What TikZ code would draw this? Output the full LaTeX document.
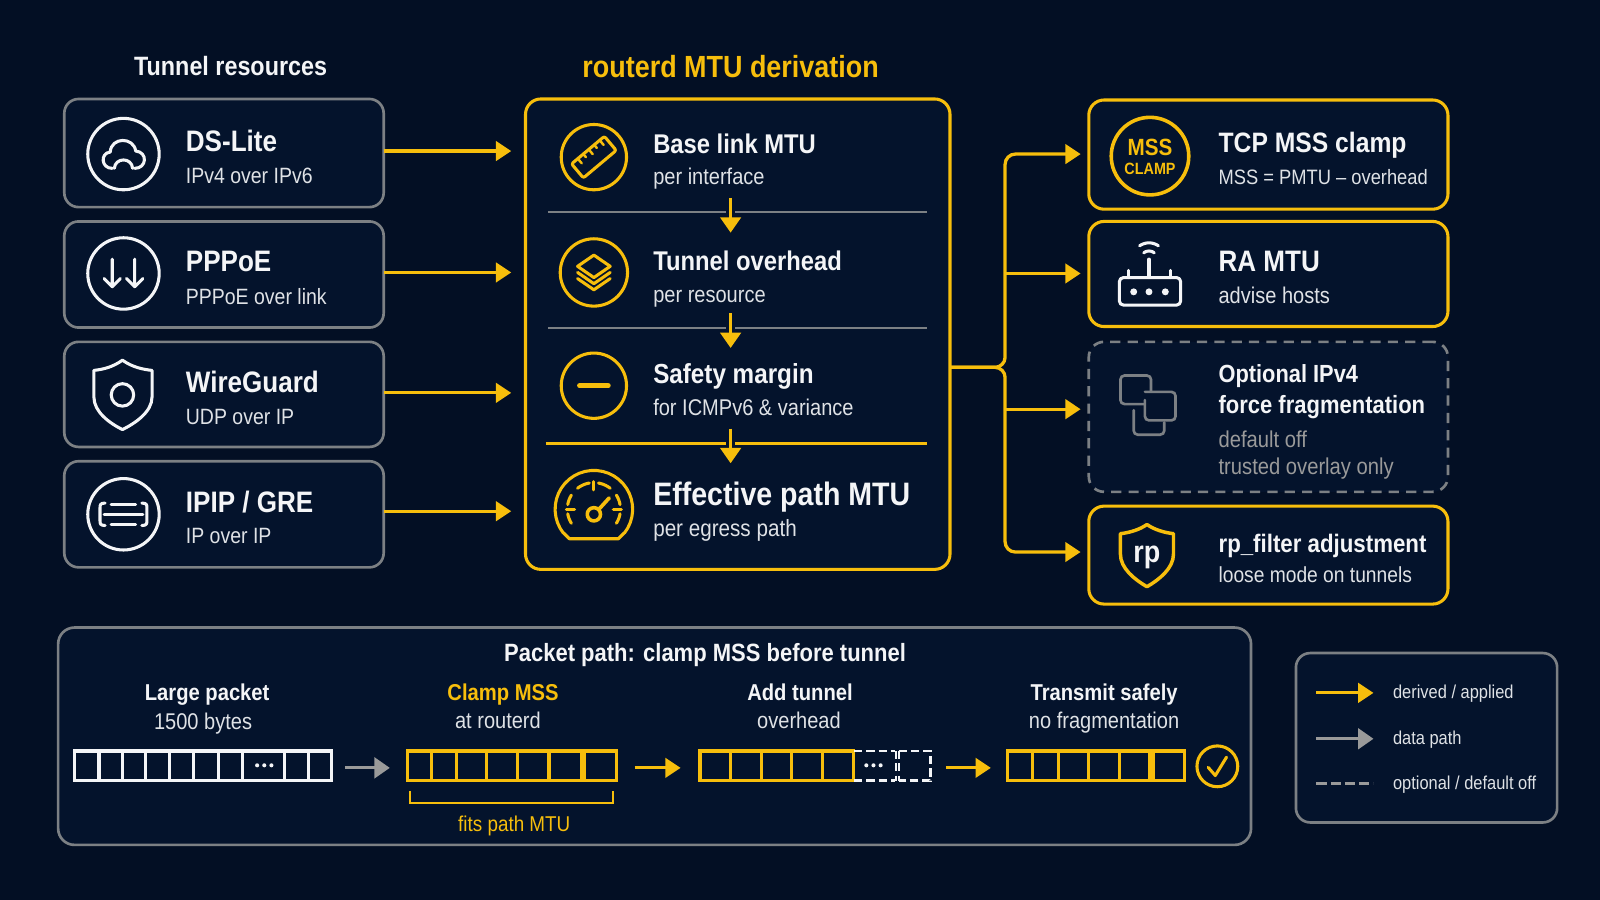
\documentclass[tikz,border=0pt]{standalone}
\usepackage{fontspec}
\setmainfont{Liberation Sans}[FakeStretch=0.88]
\usetikzlibrary{arrows.meta}
\definecolor{bgc}{HTML}{030F24}
\definecolor{boxc}{HTML}{04132C}
\definecolor{yel}{HTML}{F7BE0C}
\definecolor{gry}{HTML}{7C8084}
\definecolor{lgry}{HTML}{9A9A9A}
\definecolor{wht}{HTML}{F4F5F7}
\definecolor{sub}{HTML}{DFE2E6}
\newcommand\mybox[6]{\pgfmathsetmacro\cxx{(#3+#5)/2}\pgfmathsetmacro\cyy{(#4+#6)/2}\pgfmathsetmacro\ww{#5-#3}\pgfmathsetmacro\hh{#6-#4}\node[#2,minimum width=\ww pt,minimum height=\hh pt,inner sep=0pt,outer sep=0pt] (#1) at (\cxx,\cyy) {};}
\newcommand\tx[5]{\node[anchor=base west,inner sep=0pt,#2] (#1) at (#3,#4) {#5};}
\newcommand\tc[5]{\node[anchor=base,inner sep=0pt,#2] (#1) at (#3,#4) {#5};}
\newcommand\ar[5]{plot[domain=#4:#5,samples=30] ({#1+#2*0+#3*cos(\x)},{#2-#3*sin(\x)})}
\newcommand\fz[1]{\fontsize{#1}{#1}\selectfont}
\tikzset{
  gbox/.style={draw=gry,fill=boxc,line width=2.6pt,rounded corners=14pt},
  ybox/.style={draw=yel,fill=boxc,line width=3pt,rounded corners=15pt},
  dbox/.style={draw=gry,fill=boxc,line width=2.6pt,rounded corners=15pt,dash pattern=on 10pt off 7pt},
  head/.style={text=wht,font=\fz{29}\bfseries},
  subt/.style={text=sub,font=\fz{21.7}},
  subc/.style={text=sub,font=\fz{22.3}},
  yarrow/.style={draw=yel,line width=3.2pt,-{Triangle[length=15pt,width=19pt]}},
  garrow/.style={draw=lgry,line width=3.2pt,-{Triangle[length=15pt,width=20pt]}},
  wi/.style={draw=wht,line width=3pt,line cap=round,line join=round},
  yi/.style={draw=yel,line width=3pt,line cap=round,line join=round},
  cell/.style={line width=3pt},
}
\begin{document}
\begin{tikzpicture}[x=1pt,y=-1pt]
\useasboundingbox (0,0) rectangle (1568,882);
\fill[bgc] (0,0) rectangle (1568,882);

% titles
\tc{t1}{text=wht,font=\fz{26}\bfseries}{226}{74}{Tunnel resources}
\tc{t2}{text=yel,font=\fz{30}\bfseries}{716}{76}{routerd MTU derivation}

% left boxes
\mybox{dsl}{gbox}{63}{97}{376}{203}
\mybox{ppp}{gbox}{63}{217}{376}{321}
\mybox{wg}{gbox}{63}{335}{376}{438}
\mybox{gre}{gbox}{63}{452}{376}{556}
\mybox{der}{ybox}{515}{97}{931}{558}

\tx{dslh}{head}{182}{148}{DS-Lite}
\tx{dsls}{subt}{182}{180}{IPv4 over IPv6}
\tx{ppph}{head}{182}{266}{PPPoE}
\tx{ppps}{subt}{182}{298}{PPPoE over link}
\tx{wgh}{head}{182}{385}{WireGuard}
\tx{wgs}{subt}{182}{416}{UDP over IP}
\tx{greh}{head}{182}{502}{IPIP / GRE}
\tx{gres}{subt}{182}{533}{IP over IP}

% left icons
\draw[wi] (121,151) circle (35);
\draw[wi] (110,165) .. controls (99,165) and (98,150) .. (108,149) .. controls (109,134) and (131,134) .. (133,148) .. controls (145,149) and (144,165) .. (132,165);
\draw[wi] (112,165) .. controls (113,154) and (129,154) .. (130,165);
\draw[wi] (121,268) circle (35);
\draw[wi] (110,254)--(110,281) (102,273)--(110,281)--(118,273);
\draw[wi] (132,254)--(132,281) (124,273)--(132,281)--(140,273);
\draw[wi] (120,353) .. controls (130,360) and (140,362) .. (149,363) -- (149,389) .. controls (149,404) and (132,415) .. (120,421) .. controls (108,415) and (92,404) .. (92,389) -- (92,363) .. controls (101,362) and (110,360) .. (120,353) -- cycle;
\draw[wi] (120,387) circle (11);
\draw[wi] (121,504) circle (35);
\draw[wi] (109,494)--(133,494) (102,504)--(140,504) (109,514)--(133,514);
\draw[wi] (103,493) .. controls (98,493) and (98,495) .. (98,498) -- (98,510) .. controls (98,513) and (98,515) .. (103,515);
\draw[wi] (139,493) .. controls (144,493) and (144,495) .. (144,498) -- (144,510) .. controls (144,513) and (144,515) .. (139,515);

% left arrows
\foreach \n/\s in {dsl/2,ppp/2,wg/1.5,gre/3}
  \draw[yarrow,shorten >=14pt] ([yshift=\s pt]\n.east) -- ([yshift=\s pt]\n.east -| der.west);

% derivation rows
\tx{d1h}{text=wht,font=\fz{26.5}\bfseries}{640}{150}{Base link MTU}
\tx{d1s}{subc}{640}{181}{per interface}
\tx{d2h}{text=wht,font=\fz{26.5}\bfseries}{640}{265}{Tunnel overhead}
\tx{d2s}{subc}{640}{296}{per resource}
\tx{d3h}{text=wht,font=\fz{27}\bfseries}{640}{376}{Safety margin}
\tx{d3s}{subc}{640}{407}{for ICMPv6 \& variance}
\tx{d4h}{text=wht,font=\fz{31.8}\bfseries}{640}{495}{Effective path MTU}
\tx{d4s}{text=sub,font=\fz{23}}{640}{526}{per egress path}

\draw[draw=gry,line width=2pt] (537,208)--(908,208) (537,321)--(908,321);
\draw[draw=yel,line width=3pt] (535,435)--(908,435);
\coordinate (a1) at (716,194); \coordinate (a2) at (716,228);
\coordinate (b1) at (716,307); \coordinate (b2) at (716,341);
\coordinate (c1) at (716,420); \coordinate (c2) at (716,454);
\foreach \p/\q in {a1/a2,b1/b2,c1/c2}{
  \draw[boxc,line width=9pt,shorten >=18pt] (\p)--(\q);
  \draw[draw=yel,line width=3.2pt,-{Triangle[length=15pt,width=20pt]}] (\p)--(\q);
}

% derivation icons
\draw[yi] (582,154) circle (32);
\begin{scope}[shift={(582,154)},rotate=40]
  \draw[yi,rounded corners=2pt] (-21,-9) rectangle (21,9);
  \draw[yi,line width=2.4pt] (-13,-9)--(-13,-3) (-6,-9)--(-6,-5) (1,-9)--(1,-3) (8,-9)--(8,-5) (15,-9)--(15,-3);
\end{scope}
\draw[yi] (582,267) circle (33);
\draw[yi] (582,250)--(598,261)--(582,272)--(566,261)--cycle;
\draw[yi] (566,267)--(582,278)--(598,267);
\draw[yi] (566,273)--(582,284)--(598,273);
\draw[yi] (582,378) circle (32);
\draw[yi,line width=5pt] (568,378)--(596,378);
\draw[yi] (552,522) \ar{582}{499}{38}{218}{-38} (612,522) -- (606,528) -- (558,528) -- (552,522);
\draw[yi] \ar{582}{499}{26}{100}{128};
\draw[yi] \ar{582}{499}{26}{52}{80};
\draw[yi] \ar{582}{499}{26}{148}{170};
\draw[yi] \ar{582}{499}{26}{10}{32};
\draw[yi] \ar{582}{499}{26}{190}{212};
\draw[yi] \ar{582}{499}{26}{-32}{-10};
\draw[yi] (582,472)--(582,480) (555,499)--(563,499) (601,499)--(609,499);
\draw[yi,line width=3.6pt] (587,499)--(597,488);
\draw[yi,line width=3.5pt] (582,504) circle (6.5);

% right boxes
\mybox{mss}{ybox}{1067}{98}{1419}{205}
\mybox{ra}{ybox}{1067}{217}{1419}{320}
\mybox{frag}{dbox}{1067}{335}{1419}{482}
\mybox{rp}{ybox}{1067}{496}{1419}{592}

\tx{m1}{text=wht,font=\fz{27.5}\bfseries}{1194}{149}{TCP MSS clamp}
\tx{m2}{text=sub,font=\fz{20.4}}{1194}{181}{MSS = PMTU – overhead}
\tx{r1}{text=wht,font=\fz{29}\bfseries}{1194}{266}{RA MTU}
\tx{r2}{subc}{1194}{297}{advise hosts}
\tx{f1}{text=wht,font=\fz{24.3}\bfseries}{1194}{375}{Optional IPv4}
\tx{f2}{text=wht,font=\fz{24.5}\bfseries}{1194}{405}{force fragmentation}
\tx{f3}{text=lgry,font=\fz{22.5}}{1194}{439}{default off}
\tx{f4}{text=lgry,font=\fz{22.5}}{1194}{465}{trusted overlay only}
\tx{p1t}{text=wht,font=\fz{24.8}\bfseries}{1194}{541}{rp\_filter adjustment}
\tx{p2t}{text=sub,font=\fz{21.4}}{1194}{571}{loose mode on tunnels}

% right icons
\draw[yi,line width=3.5pt] (1127,153) circle (38);
\tc{ic1}{text=yel,font=\fz{23}\bfseries}{1127}{152}{MSS}
\tc{ic2}{text=yel,font=\fz{16}\bfseries}{1127}{171}{CLAMP}
\draw[wi,rounded corners=4pt] (1097,272) rectangle (1157,299);
\fill[wht] (1111,286) circle (3.4) (1126,286) circle (3.4) (1142,286) circle (3.4);
\draw[wi] (1126,272)--(1126,254) (1106,272)--(1106,265) (1147,272)--(1147,265);
\draw[wi] \ar{1126}{254}{8}{50}{130};
\draw[wi] \ar{1126}{254}{16}{55}{125};
\draw[gry,line width=2.6pt,rounded corners=4pt,line cap=round] (1121,396)--(1098,396)--(1098,368)--(1128,368)--(1128,384);
\draw[gry,line width=2.6pt,rounded corners=4pt,line cap=round] (1122,384)--(1152,384)--(1152,412)--(1122,412)--(1122,392);
\draw[gry,line width=2.6pt,rounded corners=4pt,line cap=round] (1111,402)--(1111,426)--(1141,426)--(1141,414);
\draw[yi,line width=3.4pt] (1124,514) .. controls (1131,519) and (1141,522) .. (1150,523) -- (1150,543) .. controls (1150,557) and (1136,568) .. (1124,575) .. controls (1112,568) and (1098,557) .. (1098,543) -- (1098,523) .. controls (1107,522) and (1117,519) .. (1124,514) -- cycle;
\tc{ic3}{text=wht,font=\fz{30}\bfseries}{1124}{551}{rp}

% bus
\coordinate (bus) at (985,360);
\draw[yarrow,rounded corners=10pt] (der.east |- bus) -- (bus) -- (985,151) -- (mss.west |- 0,151) [shorten >=8pt];
\draw[yarrow,rounded corners=10pt] (der.east |- bus) -- (bus) -- (985,541) -- (rp.west |- 0,541) [shorten >=8pt];
\draw[yarrow,shorten >=8pt] (985,268) -- (ra.west |- 0,268);
\draw[yarrow,shorten >=8pt] (985,401) -- (frag.west |- 0,401);

% packet path panel
\mybox{pk}{gbox,rounded corners=16pt}{57}{615}{1226}{828}
\tc{pt}{text=wht,font=\fz{24.5}\bfseries}{691}{648}{Packet path: clamp MSS before tunnel}
\tc{l1}{text=wht,font=\fz{22.5}\bfseries}{203}{686}{Large packet}
\tc{l1b}{subc}{199}{715}{1500 bytes}
\tc{l2}{text=yel,font=\fz{22.5}\bfseries}{493}{686}{Clamp MSS}
\tc{l2b}{subc}{488}{714}{at routerd}
\tc{l3}{text=wht,font=\fz{22.5}\bfseries}{784}{686}{Add tunnel}
\tc{l3b}{subc}{783}{714}{overhead}
\tc{l4}{text=wht,font=\fz{22.5}\bfseries}{1082}{686}{Transmit safely}
\tc{l4b}{subc}{1082}{714}{no fragmentation}

% packets
\mybox{pa}{draw=wht,cell}{73}{736}{325}{765}
\foreach \x in {97,120,143,166,190,214,238,279,302} \draw[wht,cell] (\x,736)--(\x,765);
\fill[wht] (252,750) circle (2) (259,750) circle (2) (266,750) circle (2);
\mybox{pb}{draw=yel,cell}{399}{736}{570}{765}
\foreach \x in {423,447,477,507,538} \draw[yel,cell] (\x,736)--(\x,765);
\mybox{pbb}{draw=yel,cell}{573}{736}{604}{765}
\mybox{pc}{draw=yel,cell}{686}{736}{836}{765}
\foreach \x in {716,746,776,806} \draw[yel,cell] (\x,736)--(\x,765);
\draw[wht,line width=2.6pt,dash pattern=on 8pt off 4pt] (837,736)--(877,736) (837,765)--(877,765) (881,736)--(912,736)--(912,765)--(881,765) (878,736)--(878,765) (881,736)--(881,765);
\fill[wht] (849,750) circle (2) (856,750) circle (2) (863,750) circle (2);
\coordinate (pcd) at (912,750.5);
\mybox{pd}{draw=yel,cell}{987}{736}{1127}{765}
\foreach \x in {1012,1037,1067,1097} \draw[yel,cell] (\x,736)--(\x,765);
\mybox{pe}{draw=yel,cell}{1130}{736}{1161}{765}
\draw[yi] (1193,751) circle (20);
\draw[yi] (1184,752)--(1191,760)--(1202,742);
\draw[yel,line width=2.4pt] (402,775)--(402,787)--(601,787)--(601,775);
\tc{fp}{text=yel,font=\fz{21}}{504}{815}{fits path MTU}

\draw[garrow,shorten <=13pt,shorten >=17pt] ([yshift=-2pt]pa.east) -- ([yshift=-2pt]pb.west);
\draw[yarrow,shorten <=18pt,shorten >=19pt] ([yshift=-2pt]pbb.east) -- ([yshift=-2pt]pc.west);
\draw[yarrow,shorten <=15pt,shorten >=16pt] ([yshift=-2pt]pcd) -- ([yshift=-2pt]pd.west);

% legend
\mybox{leg}{gbox}{1270}{640}{1526}{806}
\coordinate (g1a) at (1290,679); \coordinate (g1b) at (1346,679);
\coordinate (g2a) at (1290,724); \coordinate (g2b) at (1346,724);
\coordinate (g3a) at (1290,768); \coordinate (g3b) at (1346,768);
\draw[yarrow] (g1a)--(g1b);
\draw[garrow] (g2a)--(g2b);
\draw[lgry,line width=3.2pt,dash pattern=on 10pt off 4pt] (g3a)--(g3b);
\tx{lg1}{text=sub,font=\fz{18.3}}{1365}{685}{derived / applied}
\tx{lg2}{text=sub,font=\fz{18.3}}{1365}{730}{data path}
\tx{lg3}{text=sub,font=\fz{18.3}}{1365}{774}{optional / default off}
\end{tikzpicture}
\end{document}
